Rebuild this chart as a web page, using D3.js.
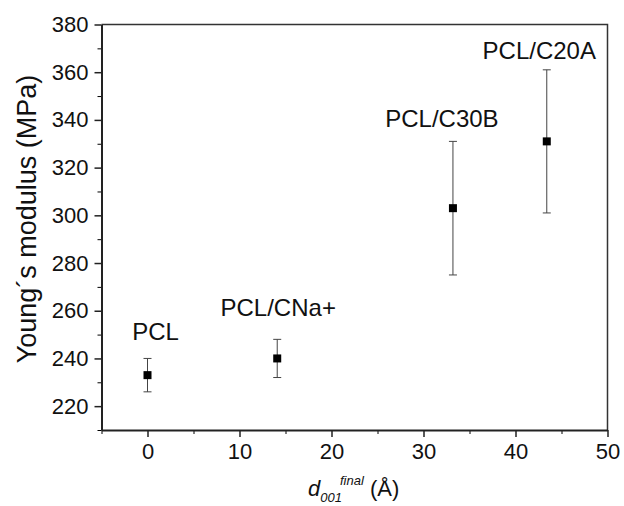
<!DOCTYPE html>
<html>
<head>
<meta charset="utf-8">
<script src="https://cdn.jsdelivr.net/npm/d3@7"></script>
<style>
  body { margin: 0; background: #fff; }
  svg text { font-family: Arial, "Liberation Sans", sans-serif; fill: #111; }
</style>
</head>
<body>
<div id="chart"></div>
<script>
// sample data
var samples = ["PCL", "PCL/CNa+", "PCL/C30B", "PCL/C20A"];
var d001 = [0, 14.1, 33.2, 43.4];
var modulus = [233, 240, 303, 331];
var errLow = [226, 232, 275, 301];
var errHigh = [240, 248, 331, 361];
var xTicks = [0, 10, 20, 30, 40, 50];
var yTicks = [220, 240, 260, 280, 300, 320, 340, 360, 380];

var data = samples.map((s, i) => ({
  name: s, x: d001[i], y: modulus[i], lo: errLow[i], hi: errHigh[i]
}));

// label nudges (px) relative to the top of each error bar
var labelDx = [8, 1, -11, -7.5];
var labelDy = [-18, -23, -14, -11];

const margin = { top: 24.5, right: 16.5, bottom: 76, left: 101.5 };
const width = 624, height = 506;
const w = width - margin.left - margin.right;
const h = height - margin.top - margin.bottom;

var svg = d3.select("#chart").append("svg")
  .attr("width", width)
  .attr("height", height);

var g = svg.append("g")
  .attr("transform", `translate(${margin.left},${margin.top})`);

var x = d3.scaleLinear().domain([-5, 50]).range([0, w]);
var y = d3.scaleLinear().domain([210, 380]).range([h, 0]);

// top and right frame
g.append("path")
  .attr("d", `M0,0H${w}V${h}`)
  .attr("fill", "none")
  .attr("stroke", "#333")
  .attr("stroke-width", 1.5);

// minor ticks
g.append("g")
  .attr("transform", `translate(0,${h})`)
  .call(d3.axisBottom(x).tickValues(d3.range(-5, 50, 10)).tickSize(4).tickFormat(""))
  .call(a => a.select(".domain").remove());
g.append("g")
  .call(d3.axisLeft(y).tickValues(d3.range(210, 380, 20)).tickSize(4).tickFormat(""))
  .call(a => a.select(".domain").remove());

// major axes
var xAxis = g.append("g")
  .attr("transform", `translate(0,${h})`)
  .call(d3.axisBottom(x).tickValues(xTicks).tickSize(7).tickPadding(6).tickSizeOuter(0));
var yAxis = g.append("g")
  .call(d3.axisLeft(y).tickValues(yTicks).tickSize(7).tickPadding(6).tickSizeOuter(0));

[xAxis, yAxis].forEach(a => {
  a.selectAll("text").style("font-size", "22px").attr("fill", "#111");
  a.selectAll("line").attr("stroke", "#222").attr("stroke-width", 1.5);
  a.select(".domain").attr("stroke", "#222").attr("stroke-width", 2);
});

// error bars
var eb = g.selectAll(".err")
  .data(data)
  .enter().append("g")
  .attr("class", "err")
  .attr("stroke", "#444")
  .attr("stroke-width", 1);

eb.append("line")
  .attr("x1", d => x(d.x)).attr("x2", d => x(d.x))
  .attr("y1", d => y(d.lo)).attr("y2", d => y(d.hi));
eb.append("line")
  .attr("x1", d => x(d.x) - 4).attr("x2", d => x(d.x) + 4)
  .attr("y1", d => y(d.lo)).attr("y2", d => y(d.lo));
eb.append("line")
  .attr("x1", d => x(d.x) - 4).attr("x2", d => x(d.x) + 4)
  .attr("y1", d => y(d.hi)).attr("y2", d => y(d.hi));

// markers
g.selectAll(".pt")
  .data(data)
  .enter().append("rect")
  .attr("class", "pt")
  .attr("x", d => x(d.x) - 4)
  .attr("y", d => y(d.y) - 4)
  .attr("width", 8)
  .attr("height", 8)
  .attr("fill", "#000");

// sample labels above the error bars
g.selectAll(".lbl")
  .data(data)
  .enter().append("text")
  .attr("class", "lbl")
  .attr("x", (d, i) => x(d.x) + labelDx[i])
  .attr("y", (d, i) => y(d.hi) + labelDy[i])
  .attr("text-anchor", "middle")
  .style("font-size", "24px")
  .text(d => d.name);

// y axis title
svg.append("text")
  .attr("transform", "translate(36,219) rotate(-90)")
  .attr("text-anchor", "middle")
  .style("font-size", "27px")
  .text("Young\u00b4s modulus (MPa)");

// x axis title
var xt = svg.append("text")
  .attr("x", 308)
  .attr("y", 496)
  .style("font-size", "22px");
xt.append("tspan").style("font-style", "italic").text("d");
xt.append("tspan").attr("dy", 6).style("font-size", "13px").style("font-style", "italic").text("001");
xt.append("tspan").attr("dx", -2).attr("dy", -17).style("font-size", "13px").style("font-style", "italic").text("final");
xt.append("tspan").attr("dy", 11).text(" (\u00c5)");
</script>
</body>
</html>
